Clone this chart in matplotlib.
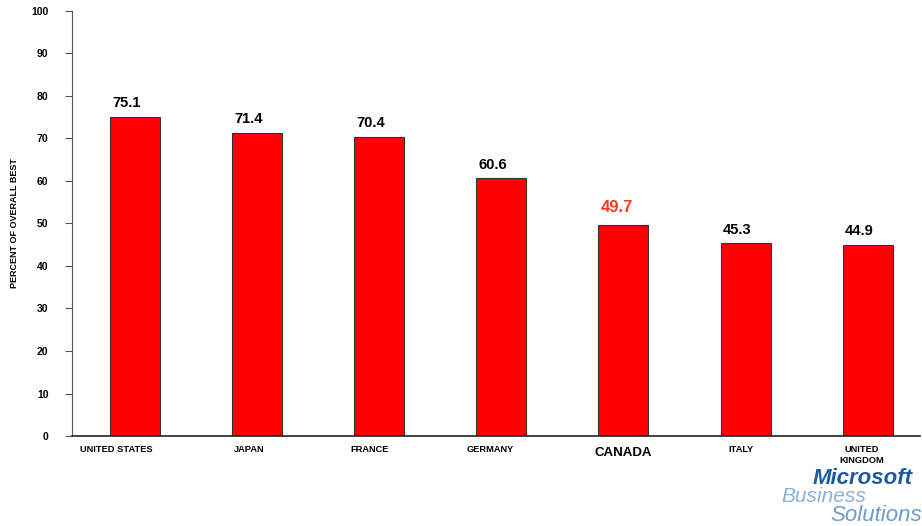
import matplotlib.pyplot as plt

plt.rcParams['font.family'] = ['Liberation Sans', 'DejaVu Sans']

countries = ['UNITED STATES', 'JAPAN', 'FRANCE', 'GERMANY', 'CANADA', 'ITALY', 'UNITED\nKINGDOM']
values = [75.1, 71.4, 70.4, 60.6, 49.7, 45.3, 44.9]
highlight = 'CANADA'

# small left shifts of the category labels (fraction of a slot), as in the source slide
label_shift = [-0.15, -0.065, -0.075, -0.09, 0.0, -0.04, -0.05]

fig = plt.figure(figsize=(9.22, 5.26), dpi=100)
ax = fig.add_axes([0.0781, 0.1711, 0.92, 0.808])

x = range(len(countries))
bw = 0.41
ax.bar(x, values, width=bw, color='#FF0000', edgecolor='#333333', linewidth=0.8, zorder=2)

for i, (c, v) in enumerate(zip(countries, values)):
    if c == highlight:
        ax.text(i - bw / 2 + 0.02, v + 2.3, f'{v:.1f}', ha='left', va='bottom',
                fontsize=12, fontweight='bold', color='#FF3B1A')
    else:
        ax.text(i - bw / 2 + 0.02, v + 1.6, f'{v:.1f}', ha='left', va='bottom',
                fontsize=10.5, fontweight='bold', color='black')

ax.set_xlim(-0.515, 6.43)
ax.set_ylim(0, 100)
ax.set_yticks(range(0, 101, 10))
ax.tick_params(axis='y', length=5, width=0.8, colors='#555555', labelcolor='black',
               labelsize=7.5, pad=12)
for lab in ax.get_yticklabels():
    lab.set_fontweight('bold')

ax.set_xticks(list(x))
ax.set_xticklabels([])
ax.tick_params(axis='x', length=0)
for i, c in enumerate(countries):
    if c == highlight:
        ax.text(i + label_shift[i], -2.6, c, ha='center', va='top', fontsize=9.5,
                fontweight='bold')
    else:
        ax.text(i + label_shift[i], -2.0, c, ha='center', va='top', fontsize=6.7,
                fontweight='bold', linespacing=1.3)

ax.set_ylabel('PERCENT OF OVERALL BEST', fontsize=6.5, fontweight='bold', labelpad=9)

for s in ['top', 'right']:
    ax.spines[s].set_visible(False)
ax.spines['left'].set_color('#555555')
ax.spines['bottom'].set_color('#222222')
ax.spines['bottom'].set_linewidth(1.2)

# logo text
fig.text(0.99, 0.091, 'Microsoft', ha='right', va='center', fontsize=16,
         fontweight='bold', style='italic', color='#1F5AA0')
fig.text(0.848, 0.056, 'Business', ha='left', va='center', fontsize=15,
         style='italic', color='#8DB0D6')
fig.text(1.0, 0.0, 'Solutions', ha='right', va='bottom', fontsize=16,
         style='italic', color='#6E9CCB')

fig.savefig('out.png', dpi=100)
